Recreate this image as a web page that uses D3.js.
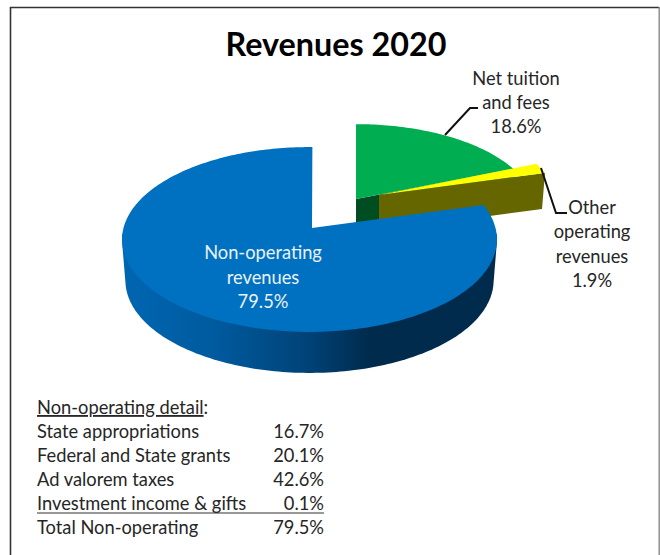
<!DOCTYPE html>
<html>
<head>
<meta charset="utf-8">
<script src="https://cdn.jsdelivr.net/npm/d3@7"></script>
<style>
  html, body { margin: 0; padding: 0; background: #fff; }
  svg { display: block; }
  text { font-family: Lato, "Open Sans", sans-serif; fill: #262626; }
</style>
</head>
<body>
<div id="container"></div>
<script>
// pie data
const sliceNames = ["Net tuition and fees", "Other operating revenues", "Non-operating revenues"];
const sliceValues = [18.6, 1.9, 79.5];
const sliceColors = ["#00ad50", "#ffff00", "#0070c0"];
const wallColors = ["#004d21", "#666600"];

// table under the pie
const detailLabels = ["State appropriations", "Federal and State grants", "Ad valorem taxes", "Investment income & gifts"];
const detailValues = [16.7, 20.1, 42.6, 0.1];
const detailTotalLabel = "Total Non-operating";
const detailTotal = 79.5;

const width = 660, height = 555;
const svg = d3.select("#container").append("svg")
  .attr("width", width)
  .attr("height", height);

const pct = d3.format(".1f");
const fontSize = "18.3px";

// frame of the screenshot
svg.append("path").attr("d", "M10.5,555V7.5H659").attr("fill", "none").attr("stroke", "#333").attr("stroke-width", 1.6);
svg.append("line").attr("x1", 659.2).attr("x2", 659.2).attr("y1", 7).attr("y2", 555).attr("stroke", "#888").attr("stroke-width", 1.4);

svg.append("text").attr("x", 336).attr("y", 56).attr("text-anchor", "middle")
  .style("font-size", "32.3px").style("font-weight", 700).style("fill", "#000")
  .text("Revenues 2020");

// pie angles, the first slice starts a bit past 12 o'clock
const pie = d3.pie().sort(null).value(d => d).startAngle(Math.PI / 180).endAngle(Math.PI * 2 + Math.PI / 180);
const arcs = pie(sliceValues);

// tilted circle with some perspective: the near edge is bigger than the far edge
const k = 0.1243, rx = 186, ry = 91;
function project(angle, c, s) {
  const u = Math.sin(angle), v = -Math.cos(angle), w = 1 - k * v;
  return [c[0] + s[0] * rx * u / w, c[1] + s[1] * ry * v / w];
}
function arcPoints(a0, a1, c, s) {
  const n = Math.max(2, Math.ceil(Math.abs(a1 - a0) / 0.02));
  return d3.range(n + 1).map(i => project(a0 + (a1 - a0) * i / n, c, s));
}
const line = d3.line();
const depth = 41;

const centers = [[356, 199], [379, 195], [309.5, 228]];
const scales = [[0.955, 0.925], [0.955, 0.955], [1, 1]];

const defs = svg.append("defs");
const grad = defs.append("linearGradient").attr("id", "wall")
  .attr("gradientUnits", "userSpaceOnUse")
  .attr("x1", 122).attr("x2", 497).attr("y1", 0).attr("y2", 0);
grad.selectAll("stop")
  .data([[0, "#0066b2"], [0.25, "#005a9e"], [0.5, "#004276"], [0.66, "#002b4d"], [1, "#002b4d"]])
  .join("stop")
  .attr("offset", d => d[0])
  .attr("stop-color", d => d[1]);

const pieG = svg.append("g");

// green slice, with the cut face under it
const g0 = project(arcs[0].endAngle, centers[0], scales[0]);
pieG.append("path")
  .attr("d", line([centers[0], g0, [g0[0], g0[1] + depth - 5], [centers[0][0], centers[0][1] + depth - 5]]) + "Z")
  .attr("fill", wallColors[0]);
pieG.append("path")
  .attr("d", line([centers[0]].concat(arcPoints(arcs[0].startAngle - Math.PI / 180, arcs[0].endAngle, centers[0], scales[0]))) + "Z")
  .attr("fill", sliceColors[0]);

// yellow slice
const y0 = project(arcs[1].endAngle, centers[1], scales[1]);
pieG.append("path")
  .attr("d", line([centers[1], y0, [y0[0] - 3, y0[1] + depth - 5], [centers[1][0], centers[1][1] + depth - 5]]) + "Z")
  .attr("fill", wallColors[1]);
pieG.append("path")
  .attr("d", line([centers[1]].concat(arcPoints(arcs[1].startAngle, arcs[1].endAngle, centers[1], scales[1]))) + "Z")
  .attr("fill", sliceColors[1]);

// blue slice: rim is the hull of the upper and lower edge, only the front half
// so the hull stays under the top face and out of the gap
const rimTop = arcPoints(Math.PI * 0.52, Math.PI * 1.48, centers[2], scales[2]);
const rimBottom = rimTop.map(p => [centers[2][0] + (p[0] - centers[2][0]) * 0.982, p[1] + depth]);
pieG.append("path")
  .attr("d", line(d3.polygonHull(rimTop.concat(rimBottom))) + "Z")
  .attr("fill", "url(#wall)");
pieG.append("path")
  .attr("d", line([[centers[2][0] + 2.5, centers[2][1]]].concat(arcPoints(arcs[2].startAngle, arcs[2].endAngle, centers[2], scales[2]))) + "Z")
  .attr("fill", sliceColors[2]);

// leader lines
const leaders = [[[445, 135], [470, 108], [478, 108]], [[541, 168], [556, 213], [567, 213]]];
svg.selectAll(".leader").data(leaders).join("path")
  .attr("class", "leader")
  .attr("d", d => line(d))
  .attr("fill", "none")
  .attr("stroke", "#111")
  .attr("stroke-width", 2);

// slice labels
function label(lines, x, y0, step, color) {
  svg.append("g").selectAll("text").data(lines).join("text")
    .attr("x", x)
    .attr("y", (d, i) => y0 + i * step)
    .attr("text-anchor", "middle")
    .style("font-size", fontSize)
    .style("fill", color || "#262626")
    .text(d => d);
}
label(["Net tuition", "and fees", pct(sliceValues[0]) + "%"], 516, 85, 24);
label(["Other", "operating", "revenues", pct(sliceValues[1]) + "%"], 592, 214, 24.3);
label(["Non-operating", "revenues", pct(sliceValues[2]) + "%"], 263, 259, 24.5, "#e9f2fa");

// detail table
const rowY = d3.scalePoint()
  .domain(["head"].concat(detailLabels, [detailTotalLabel]))
  .range([414, 534]);
const tableX = 37, tableRight = 324;
const head = svg.append("text").attr("x", tableX).attr("y", rowY("head")).style("font-size", fontSize);
head.append("tspan").style("text-decoration", "underline").text("Non-operating detail");
head.append("tspan").text(":");

const rows = detailLabels.map((d, i) => [d, detailValues[i]]).concat([[detailTotalLabel, detailTotal]]);
svg.selectAll(".rowLabel").data(rows).join("text")
  .attr("class", "rowLabel")
  .attr("x", tableX)
  .attr("y", d => rowY(d[0]))
  .style("font-size", fontSize)
  .text(d => d[0]);
svg.selectAll(".rowValue").data(rows).join("text")
  .attr("class", "rowValue")
  .attr("x", tableRight)
  .attr("y", d => rowY(d[0]))
  .attr("text-anchor", "end")
  .style("font-size", fontSize)
  .text(d => pct(d[1]) + "%");
svg.append("line")
  .attr("x1", tableX).attr("x2", tableRight)
  .attr("y1", rowY(detailLabels[3]) + 3).attr("y2", rowY(detailLabels[3]) + 3)
  .attr("stroke", "#333").attr("stroke-width", 1.2);
</script>
</body>
</html>
